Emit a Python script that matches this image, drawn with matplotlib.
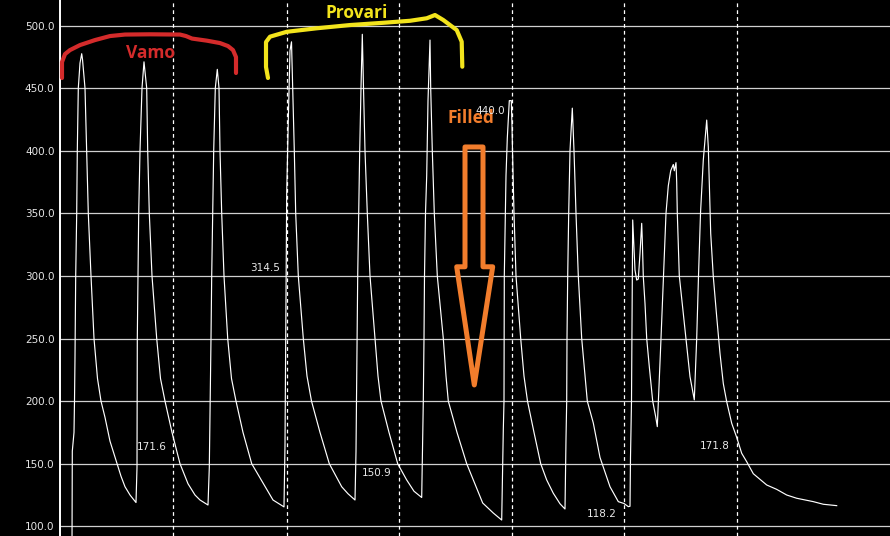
import matplotlib
matplotlib.use('Agg')
import matplotlib.pyplot as plt
from matplotlib.patches import Polygon
from matplotlib.ticker import FormatStrFormatter

# ---- trace data (time index, value) ----
t = [12, 12.3, 14, 14.5, 15, 15.7, 16.7, 17.3, 18.3, 20, 21.7, 22.5,
     25, 26.7, 28.3, 31, 34, 37.5, 41, 45, 50, 57, 61, 65, 70, 76,
     77, 77.3, 78, 78.7, 80, 82, 84,
     86.7, 87.7, 89.3, 92, 96.7, 100.5, 105, 112, 120, 128, 135, 140, 148,
     149.3, 151, 151.7, 152.7, 153.7, 155.3, 157.3,
     159, 160, 161.7, 164, 167.7, 171.5, 176, 183, 191.7, 203, 213, 219, 224,
     225, 226.7, 228.3, 230, 231.5,
     232.7, 234.3, 235.7, 238.3, 243.3, 247, 251.5, 260, 269.3, 276, 281.7, 288, 295,
     296, 296.5, 297.7, 298.7, 299.7, 301, 302.3,
     303, 303.5, 305, 307.3, 310, 315, 318, 321, 329, 337.7, 346.7, 354, 361.7,
     363.3, 364, 364.5, 365.5, 366.7, 368, 370,
     370.7, 372.3, 374.3, 377.3, 383.3, 386, 388.3, 397, 406.7, 413.3, 422.7, 433.3, 441.7,
     443.3, 444, 444.3, 445.3, 446, 447.3, 449.3, 451.3,
     452, 452.5, 454, 456, 460.7, 464, 467.5, 474, 480.7, 486.7, 493.3, 500, 505,
     506, 506.7, 507, 507.7, 508.7, 510, 512.3,
     514, 516, 518.3, 521.7, 525, 527.3, 533.3, 540, 550, 558.3, 564, 568.3,
     570, 570.5, 571.5, 572, 572.7,
     573.3, 575, 576.7, 578.3, 580, 581.7, 582.3, 583.3, 585, 586.7, 589.3, 592.7, 595.7, 597.3,
     601, 603.5, 606, 608.3, 610.7, 611.7, 613.3, 614.3, 616,
     616.7, 617.3, 619.3, 626, 630, 634.3,
     636.7, 638.5, 640.5, 643.3, 646.7,
     648.3, 650.7, 653.3, 656.7, 660, 663.3, 666.7, 671.7, 676.7, 681.7, 686.7, 693.3,
     706.7, 716.7, 726.7, 736.7, 753.3, 763.3, 776.7]
v = [85, 160, 175, 200, 235, 300, 350, 400, 450, 470, 477.5, 473,
     450, 400, 350, 300, 250, 218, 200, 187, 168, 150, 140, 131.6, 125, 119,
     147, 250, 300, 350, 400, 450, 471,
     450, 400, 350, 300, 250, 218, 200, 175, 150, 134, 125, 121, 117,
     147, 250, 300, 350, 400, 450, 465,
     450, 400, 350, 300, 250, 218, 200, 175, 150, 134.6, 121, 118, 115.5,
     165, 366, 424.5, 480, 487,
     450, 400, 350, 300, 250, 220, 200, 175, 150, 140, 131.6, 126, 121,
     159.6, 200, 300, 350, 400, 450, 493,
     470, 450, 400, 350, 300, 250, 220, 200, 175, 150, 137, 128, 123,
     200, 250, 300, 350, 380, 440, 488.4,
     450, 400, 350, 300, 250, 220, 200, 175, 150, 137, 118.6, 110.6, 105,
     177, 200, 300, 350, 380, 410, 440, 440,
     420, 400, 350, 300, 250, 220, 200, 175, 150, 137, 126.4, 118, 113.8,
     170, 200, 250, 300, 350, 400, 434,
     400, 350, 300, 250, 220, 200, 182.5, 155, 131.6, 119.7, 118.2, 115.7,
     116, 155, 200, 260, 344.7,
     334, 304.7, 296.7, 297.5, 318, 342, 328.7, 299.4, 278, 250, 227.5, 200, 187.5, 179.6,
     250, 300, 350, 372, 384, 386, 389, 384, 390.5,
     375, 350, 300, 250, 219.5, 201,
     250, 300, 350, 392.6, 424.5,
     403, 334, 299.4, 267.4, 238, 214, 199.5, 182.3, 171, 158.3, 151.6, 142,
     133, 129.5, 125, 122.4, 119.7, 117.6, 116.5]

# ---- marker lines and their readouts ----
marker_t = [113, 226.5, 338.5, 451.5, 563.5, 676.5]
marker_v = [171.6, 314.5, 150.9, 440.0, 118.2, 171.8]

yticks = [100, 150, 200, 250, 300, 350, 400, 450, 500]

# ---- hand-drawn annotations (data coordinates) ----
vamo_t = [2, 2, 5, 10, 20, 35, 50, 65, 90, 120, 126, 132, 147, 160, 168, 173, 176, 176]
vamo_v = [458.1, 470.8, 477.2, 480.4, 484.4, 488.4, 491.6, 492.8, 493.0, 492.8, 491.6,
          489.6, 487.9, 486.0, 483.6, 480.4, 474.8, 462.1]
provari_t = [208, 206, 206, 210, 226.7, 256.7, 290, 323.3, 350, 366.7, 375, 383.3,
             396.7, 401.7, 402.3]
provari_v = [458.1, 466.9, 486.8, 491.1, 495.0, 497.8, 500.4, 502.2, 503.8, 505.8,
             508.4, 504.4, 496.4, 487.1, 467.1]
arrow_t = [405, 423, 423, 432.7, 414.3, 396.7, 405]
arrow_v = [403.0, 403.0, 307.3, 307.3, 212.9, 307.3, 307.3]

RED = '#d42b2b'
YELLOW = '#f3e41c'
ORANGE = '#f27d2c'

fig = plt.figure(figsize=(8.9, 5.36), dpi=100, facecolor='black')
ax = fig.add_axes([60 / 890, 0, 830 / 890, 1])
ax.set_facecolor('black')
ax.set_xlim(0, 830)
ax.set_ylim(92.25, 520.4)

for y in yticks:
    ax.axhline(y, color='#d0d0d0', lw=0.9, zorder=1)
for m in marker_t:
    ax.axvline(m, color='white', lw=0.9, ls=(0, (3, 2.5)), zorder=1)

ax.plot(t, v, color='white', lw=0.85, zorder=3)

for m, val in zip(marker_t, marker_v):
    ax.annotate(f'{val:.1f}', xy=(m, val), xytext=(-6.5, -10), textcoords='offset pixels',
                ha='right', va='center', fontsize=7.5, color='#e8e8e8', zorder=6)

ax.set_yticks(yticks)
ax.yaxis.set_major_formatter(FormatStrFormatter('%.1f'))
ax.tick_params(axis='y', length=0, pad=4, labelsize=7.5, labelcolor='#e6e6e6')
ax.set_xticks([])
for s in ['top', 'right', 'bottom']:
    ax.spines[s].set_visible(False)
ax.spines['left'].set_color('white')
ax.spines['left'].set_linewidth(1.4)
ax.spines['left'].set_zorder(4)

# annotations
ax.plot(vamo_t, vamo_v, color=RED, lw=3.0, solid_capstyle='round', solid_joinstyle='round', zorder=5, clip_on=False)
ax.text(90, 478.0, 'Vamo', color=RED, fontsize=12.5, fontweight='bold', family='Open Sans',
        ha='center', va='center', zorder=5)
ax.plot(provari_t, provari_v, color=YELLOW, lw=3.0, solid_capstyle='round', solid_joinstyle='round', zorder=5, clip_on=False)
ax.text(296.7, 509.7, 'Provari', color=YELLOW, fontsize=12.5, fontweight='bold', family='Open Sans',
        ha='center', va='center', zorder=5)
ax.add_patch(Polygon(list(zip(arrow_t, arrow_v)), closed=True, fill=False, edgecolor=ORANGE,
                     lw=3.6, joinstyle='round', zorder=5))
ax.text(410.5, 425.9, 'Filled', color=ORANGE, fontsize=12.5, fontweight='bold', family='Open Sans',
        ha='center', va='center', zorder=5)

fig.savefig('out.png', dpi=100, facecolor='black')
